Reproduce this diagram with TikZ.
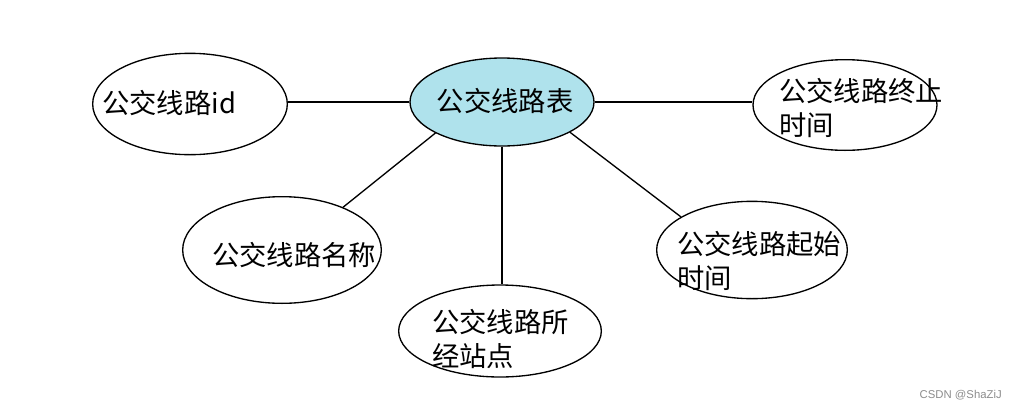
\documentclass[tikz,border=0pt]{standalone}
\usepackage{fontspec}
\newfontfamily\cjk{Noto Sans CJK SC}
\newfontfamily\markfont{Liberation Sans}
\usetikzlibrary{shapes.geometric}
\definecolor{tablefill}{RGB}{175,226,236}

\begin{document}
\begin{tikzpicture}[
    x=0.75pt, y=-0.75pt,
    attr/.style = {draw, ellipse, line width=1pt, inner sep=0pt},
    label/.style = {font=\cjk\fontsize{20.5}{26}\selectfont, inner sep=0pt, align=left, anchor=west},
    link/.style = {line width=1pt}
]
\useasboundingbox (0,0) rectangle (1015,408);

% ellipses
\node[attr, fill=tablefill, minimum width=138pt, minimum height=66pt] (table) at (502,102) {};
\node[attr, minimum width=146pt, minimum height=76pt] (lineid) at (190,104) {};
\node[attr, minimum width=138pt, minimum height=68pt] (endtime) at (845,105) {};
\node[attr, minimum width=149pt, minimum height=80pt] (linename) at (282,250) {};
\node[attr, minimum width=152pt, minimum height=69pt] (stops) at (500,331) {};
\node[attr, minimum width=143pt, minimum height=73pt] (starttime) at (752,250) {};

% texts
\node[label, anchor=center] (tabletext) at (505,101) {公交线路表};
\node[label] (lineidtext) at (102,103) {公交线路id};
\node[label] (endtimetext) at (779,108) {公交线路终止\\时间};
\node[label] (linenametext) at (212,255) {公交线路名称};
\node[label] (stopstext) at (432,339) {公交线路所\\经站点};
\node[label] (starttimetext) at (677,261) {公交线路起始\\时间};

% connectors
\draw[link] (table.west) -- (table.west -| lineid.east);
\draw[link] (table.east) -- (table.east -| endtime.west);
\draw[link] (table.205) -- (linename.35);
\draw[link] (table.south) -- (table.south |- stops.north);
\draw[link] (table.-24) -- (starttime.155);

\node[font=\markfont\fontsize{8.5}{10}\selectfont, text=black!45, anchor=east, inner sep=0pt] (mark) at (1002,395) {CSDN @ShaZiJ};
\end{tikzpicture}
\end{document}
